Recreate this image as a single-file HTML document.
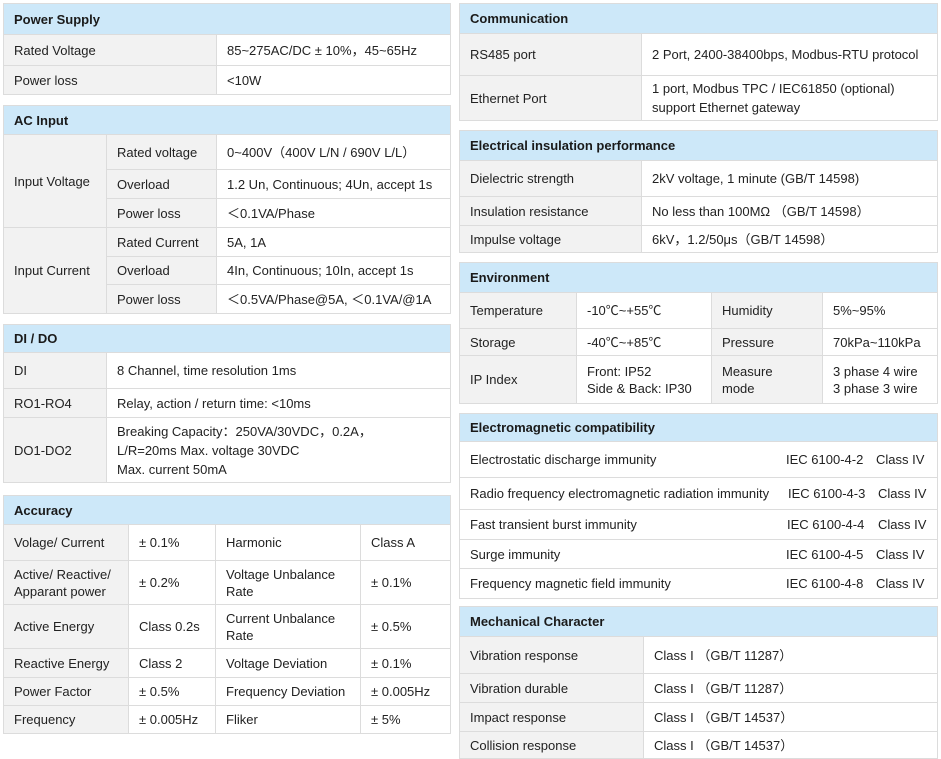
<!DOCTYPE html>
<html><head><meta charset="utf-8"><style>
body{margin:0;width:941px;height:759px;background:#fff;position:relative;overflow:hidden;font-family:"Liberation Sans","Noto Sans CJK SC",sans-serif;font-size:13px;color:#222}
.c{position:absolute;box-sizing:border-box;border:1px solid #dcdcdc;display:flex;align-items:center;padding:0 10px;background:#fff;line-height:17px;margin:0 -1px -1px 0}
.g{background:#f2f2f2}
.h{background:#cde8f9;font-weight:bold;color:#1a1a1a}
.t{position:absolute;white-space:nowrap}
</style></head><body>
<!-- Power Supply -->
<div class="c h" style="left:3px;top:3px;width:448px;height:32px">Power Supply</div>
<div class="c g" style="left:3px;top:34px;width:214px;height:32px">Rated Voltage</div>
<div class="c" style="left:216px;top:34px;width:235px;height:32px">85~275AC/DC ± 10%，45~65Hz</div>
<div class="c g" style="left:3px;top:65px;width:214px;height:30px">Power loss</div>
<div class="c" style="left:216px;top:65px;width:235px;height:30px">&lt;10W</div>
<!-- AC Input -->
<div class="c h" style="left:3px;top:105px;width:448px;height:30px">AC Input</div>
<div class="c g" style="left:3px;top:134px;width:104px;height:94px">Input Voltage</div>
<div class="c g" style="left:106px;top:134px;width:111px;height:36px">Rated voltage</div>
<div class="c" style="left:216px;top:134px;width:235px;height:36px">0~400V（400V L/N / 690V L/L）</div>
<div class="c g" style="left:106px;top:169px;width:111px;height:30px">Overload</div>
<div class="c" style="left:216px;top:169px;width:235px;height:30px">1.2 Un, Continuous; 4Un, accept 1s</div>
<div class="c g" style="left:106px;top:198px;width:111px;height:30px">Power loss</div>
<div class="c" style="left:216px;top:198px;width:235px;height:30px">＜0.1VA/Phase</div>
<div class="c g" style="left:3px;top:227px;width:104px;height:87px">Input Current</div>
<div class="c g" style="left:106px;top:227px;width:111px;height:30px">Rated Current</div>
<div class="c" style="left:216px;top:227px;width:235px;height:30px">5A, 1A</div>
<div class="c g" style="left:106px;top:256px;width:111px;height:29px">Overload</div>
<div class="c" style="left:216px;top:256px;width:235px;height:29px">4In, Continuous; 10In, accept 1s</div>
<div class="c g" style="left:106px;top:284px;width:111px;height:30px">Power loss</div>
<div class="c" style="left:216px;top:284px;width:235px;height:30px">＜0.5VA/Phase@5A, ＜0.1VA/@1A</div>
<!-- DI/DO -->
<div class="c h" style="left:3px;top:324px;width:448px;height:29px">DI / DO</div>
<div class="c g" style="left:3px;top:352px;width:104px;height:37px">DI</div>
<div class="c" style="left:106px;top:352px;width:345px;height:37px">8 Channel, time resolution 1ms</div>
<div class="c g" style="left:3px;top:388px;width:104px;height:30px">RO1-RO4</div>
<div class="c" style="left:106px;top:388px;width:345px;height:30px">Relay, action / return time: &lt;10ms</div>
<div class="c g" style="left:3px;top:417px;width:104px;height:66px">DO1-DO2</div>
<div class="c" style="left:106px;top:417px;width:345px;height:66px;line-height:19px">Breaking Capacity：250VA/30VDC，0.2A，<br>L/R=20ms Max. voltage 30VDC<br>Max. current 50mA</div>
<!-- Accuracy -->
<div class="c h" style="left:3px;top:495px;width:448px;height:30px">Accuracy</div>
<div class="c g" style="left:3px;top:524px;width:126px;height:37px">Volage/ Current</div>
<div class="c" style="left:128px;top:524px;width:88px;height:37px">± 0.1%</div>
<div class="c" style="left:215px;top:524px;width:146px;height:37px">Harmonic</div>
<div class="c" style="left:360px;top:524px;width:91px;height:37px">Class A</div>
<div class="c g" style="left:3px;top:560px;width:126px;height:45px">Active/ Reactive/<br>Apparant power</div>
<div class="c" style="left:128px;top:560px;width:88px;height:45px">± 0.2%</div>
<div class="c" style="left:215px;top:560px;width:146px;height:45px">Voltage Unbalance<br>Rate</div>
<div class="c" style="left:360px;top:560px;width:91px;height:45px">± 0.1%</div>
<div class="c g" style="left:3px;top:604px;width:126px;height:45px">Active Energy</div>
<div class="c" style="left:128px;top:604px;width:88px;height:45px">Class 0.2s</div>
<div class="c" style="left:215px;top:604px;width:146px;height:45px">Current Unbalance<br>Rate</div>
<div class="c" style="left:360px;top:604px;width:91px;height:45px">± 0.5%</div>
<div class="c g" style="left:3px;top:648px;width:126px;height:30px">Reactive Energy</div>
<div class="c" style="left:128px;top:648px;width:88px;height:30px">Class 2</div>
<div class="c" style="left:215px;top:648px;width:146px;height:30px">Voltage Deviation</div>
<div class="c" style="left:360px;top:648px;width:91px;height:30px">± 0.1%</div>
<div class="c g" style="left:3px;top:677px;width:126px;height:29px">Power Factor</div>
<div class="c" style="left:128px;top:677px;width:88px;height:29px">± 0.5%</div>
<div class="c" style="left:215px;top:677px;width:146px;height:29px">Frequency Deviation</div>
<div class="c" style="left:360px;top:677px;width:91px;height:29px">± 0.005Hz</div>
<div class="c g" style="left:3px;top:705px;width:126px;height:29px">Frequency</div>
<div class="c" style="left:128px;top:705px;width:88px;height:29px">± 0.005Hz</div>
<div class="c" style="left:215px;top:705px;width:146px;height:29px">Fliker</div>
<div class="c" style="left:360px;top:705px;width:91px;height:29px">± 5%</div>
<!-- Communication -->
<div class="c h" style="left:459px;top:3px;width:479px;height:31px">Communication</div>
<div class="c g" style="left:459px;top:33px;width:183px;height:43px">RS485 port</div>
<div class="c" style="left:641px;top:33px;width:297px;height:43px">2 Port, 2400-38400bps, Modbus-RTU protocol</div>
<div class="c g" style="left:459px;top:75px;width:183px;height:46px">Ethernet Port</div>
<div class="c" style="left:641px;top:75px;width:297px;height:46px;line-height:19px">1 port, Modbus TPC / IEC61850 (optional)<br>support Ethernet gateway</div>
<!-- Insulation -->
<div class="c h" style="left:459px;top:130px;width:479px;height:31px">Electrical insulation performance</div>
<div class="c g" style="left:459px;top:160px;width:183px;height:37px">Dielectric strength</div>
<div class="c" style="left:641px;top:160px;width:297px;height:37px">2kV voltage, 1 minute (GB/T 14598)</div>
<div class="c g" style="left:459px;top:196px;width:183px;height:30px">Insulation resistance</div>
<div class="c" style="left:641px;top:196px;width:297px;height:30px">No less than 100MΩ （GB/T 14598）</div>
<div class="c g" style="left:459px;top:225px;width:183px;height:28px">Impulse voltage</div>
<div class="c" style="left:641px;top:225px;width:297px;height:28px">6kV，1.2/50μs（GB/T 14598）</div>
<!-- Environment -->
<div class="c h" style="left:459px;top:262px;width:479px;height:31px">Environment</div>
<div class="c g" style="left:459px;top:292px;width:118px;height:37px">Temperature</div>
<div class="c" style="left:576px;top:292px;width:136px;height:37px">-10℃~+55℃</div>
<div class="c g" style="left:711px;top:292px;width:112px;height:37px">Humidity</div>
<div class="c" style="left:822px;top:292px;width:116px;height:37px">5%~95%</div>
<div class="c g" style="left:459px;top:328px;width:118px;height:28px">Storage</div>
<div class="c" style="left:576px;top:328px;width:136px;height:28px">-40℃~+85℃</div>
<div class="c g" style="left:711px;top:328px;width:112px;height:28px">Pressure</div>
<div class="c" style="left:822px;top:328px;width:116px;height:28px">70kPa~110kPa</div>
<div class="c g" style="left:459px;top:355px;width:118px;height:49px">IP Index</div>
<div class="c" style="left:576px;top:355px;width:136px;height:49px">Front: IP52<br>Side &amp; Back: IP30</div>
<div class="c g" style="left:711px;top:355px;width:112px;height:49px">Measure<br>mode</div>
<div class="c" style="left:822px;top:355px;width:116px;height:49px">3 phase 4 wire<br>3 phase 3 wire</div>
<!-- EMC -->
<div class="c h" style="left:459px;top:413px;width:479px;height:29px">Electromagnetic compatibility</div>
<div class="c" style="left:459px;top:441px;width:479px;height:37px">Electrostatic discharge immunity<span class="t" style="left:326px">IEC 6100-4-2</span><span class="t" style="left:416px">Class IV</span></div>
<div class="c" style="left:459px;top:477px;width:479px;height:33px">Radio frequency electromagnetic radiation immunity<span class="t" style="left:328px">IEC 6100-4-3</span><span class="t" style="left:418px">Class IV</span></div>
<div class="c" style="left:459px;top:509px;width:479px;height:31px">Fast transient burst immunity<span class="t" style="left:327px">IEC 6100-4-4</span><span class="t" style="left:418px">Class IV</span></div>
<div class="c" style="left:459px;top:539px;width:479px;height:30px">Surge immunity<span class="t" style="left:326px">IEC 6100-4-5</span><span class="t" style="left:416px">Class IV</span></div>
<div class="c" style="left:459px;top:568px;width:479px;height:31px">Frequency magnetic field immunity<span class="t" style="left:326px">IEC 6100-4-8</span><span class="t" style="left:416px">Class IV</span></div>
<!-- Mechanical -->
<div class="c h" style="left:459px;top:606px;width:479px;height:31px">Mechanical Character</div>
<div class="c g" style="left:459px;top:636px;width:185px;height:38px">Vibration response</div>
<div class="c" style="left:643px;top:636px;width:295px;height:38px">Class I （GB/T 11287）</div>
<div class="c g" style="left:459px;top:673px;width:185px;height:30px">Vibration durable</div>
<div class="c" style="left:643px;top:673px;width:295px;height:30px">Class I （GB/T 11287）</div>
<div class="c g" style="left:459px;top:702px;width:185px;height:30px">Impact response</div>
<div class="c" style="left:643px;top:702px;width:295px;height:30px">Class I （GB/T 14537）</div>
<div class="c g" style="left:459px;top:731px;width:185px;height:28px">Collision response</div>
<div class="c" style="left:643px;top:731px;width:295px;height:28px">Class I （GB/T 14537）</div>
</body></html>
